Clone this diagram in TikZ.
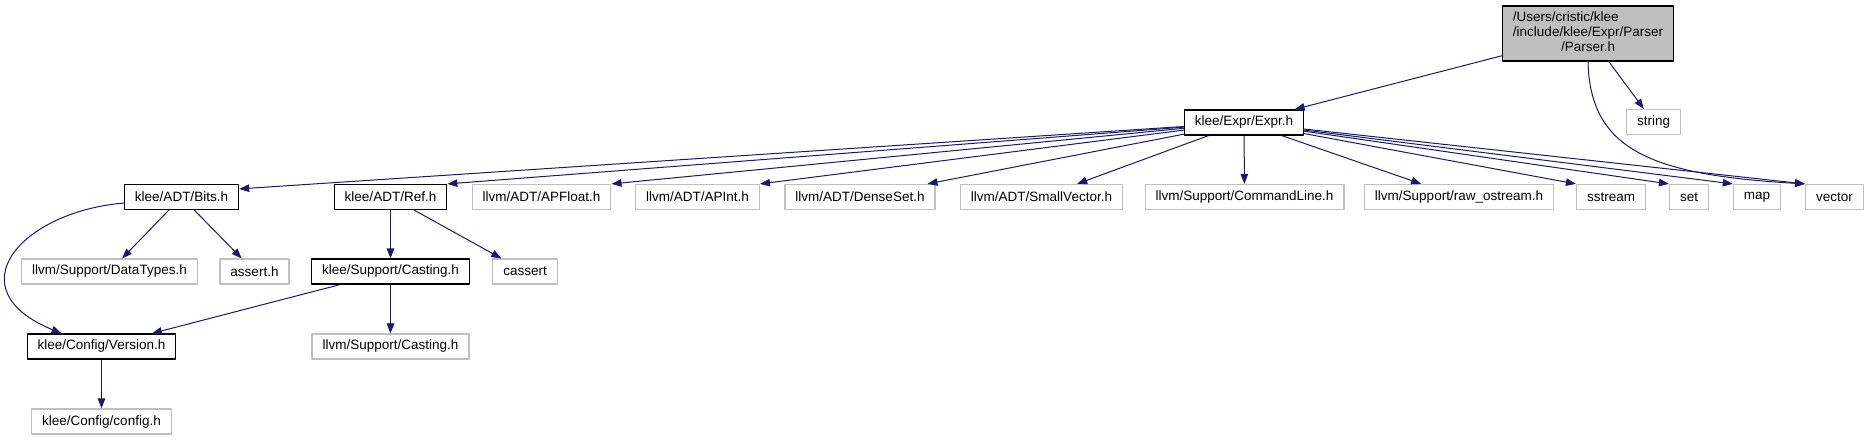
\documentclass[tikz,border=0pt]{standalone}
\usepackage{fontspec}
\setmainfont{Liberation Sans}
\usetikzlibrary{arrows.meta}
\definecolor{edgeblue}{HTML}{191970}
\definecolor{grey75}{HTML}{BFBFBF}

\begin{document}
\begin{tikzpicture}[
  x=1pt,y=-1pt,
  line cap=round,line join=round,
  >={Triangle[length=10pt,width=7.5pt]},
  box/.style={font=\fontsize{13.5}{15.5}\selectfont, inner xsep=10.5pt, inner ysep=0pt, minimum height=25pt, line width=1.2pt},
  docfile/.style={box, draw=black, fill=white},
  extfile/.style={box, draw=grey75, fill=white},
  incl/.style={draw=edgeblue, line width=1pt, ->}
]
\useasboundingbox (0,0) rectangle (1870,440);

% the file whose includes are shown
\node[box,draw=black,fill=grey75,minimum height=55pt] (parser) at (1588,33.5)
  {\renewcommand\arraystretch{0.95}\begin{tabular}{@{}l@{}}/Users/cristic/klee\\/include/klee/Expr/Parser\\\multicolumn{1}{@{}c@{}}{/Parser.h}\end{tabular}};
\node[extfile] (stdstring) at (1653.5,122) {string};
\node[docfile] (expr) at (1244,122.5) {klee/Expr/Expr.h};

% headers pulled in by Expr.h
\node[docfile] (bits) at (181.5,197) {klee/ADT/Bits.h};
\node[docfile] (ref) at (390.5,197) {klee/ADT/Ref.h};
\node[extfile] (apfloat) at (541.5,197) {llvm/ADT/APFloat.h};
\node[extfile] (apint) at (697.5,197) {llvm/ADT/APInt.h};
\node[extfile] (denseset) at (860,197) {llvm/ADT/DenseSet.h};
\node[extfile] (smallvec) at (1041.5,197) {llvm/ADT/SmallVector.h};
\node[extfile] (cmdline) at (1244.5,197) {llvm/Support/CommandLine.h};
\node[extfile] (rawos) at (1459,197) {llvm/Support/raw\_ostream.h};
\node[extfile] (stdsstream) at (1611,197) {sstream};
\node[extfile] (stdset) at (1689,197) {set};
\node[extfile] (stdmap) at (1757,197) {map};
\node[extfile] (stdvector) at (1834.5,197) {vector};

% second and deeper levels
\node[extfile] (datatypes) at (109.5,271.5) {llvm/Support/DataTypes.h};
\node[extfile] (assert) at (254.5,271.5) {assert.h};
\node[docfile] (kcasting) at (390.5,271.5) {klee/Support/Casting.h};
\node[extfile] (cassert) at (525,271.5) {cassert};
\node[docfile] (version) at (101.5,346.5) {klee/Config/Version.h};
\node[extfile] (lcasting) at (390.5,346.5) {llvm/Support/Casting.h};
\node[extfile] (config) at (101.5,421.5) {klee/Config/config.h};

% include edges
\draw[incl] (parser) -- (expr);
\draw[incl] (parser) -- (stdstring);
\draw[incl] (parser.south) .. controls +(2,89) and +(-153,-9) .. (stdvector.north west);
\foreach \t/\a in {bits/8,ref/north east,apfloat/north east,apint/north east,
                   stdsstream/north west,stdset/north west,stdmap/north west,stdvector/north west}
  \draw[incl] (expr) -- (\t.\a);
\foreach \t in {denseset,smallvec,cmdline,rawos}
  \draw[incl] (expr) -- (\t);
\draw[incl] (bits) -- (datatypes);
\draw[incl] (bits) -- (assert);
\draw[incl] ([yshift=-6pt]bits.west) .. controls +(-104,9) and +(-107,-44) .. ([xshift=-40pt]version.north);
\draw[incl] (ref) -- (kcasting);
\draw[incl] (ref) -- (cassert);
\draw[incl] (kcasting) -- (version);
\draw[incl] (kcasting) -- (lcasting);
\draw[incl] (version) -- (config);

\end{tikzpicture}
\end{document}
